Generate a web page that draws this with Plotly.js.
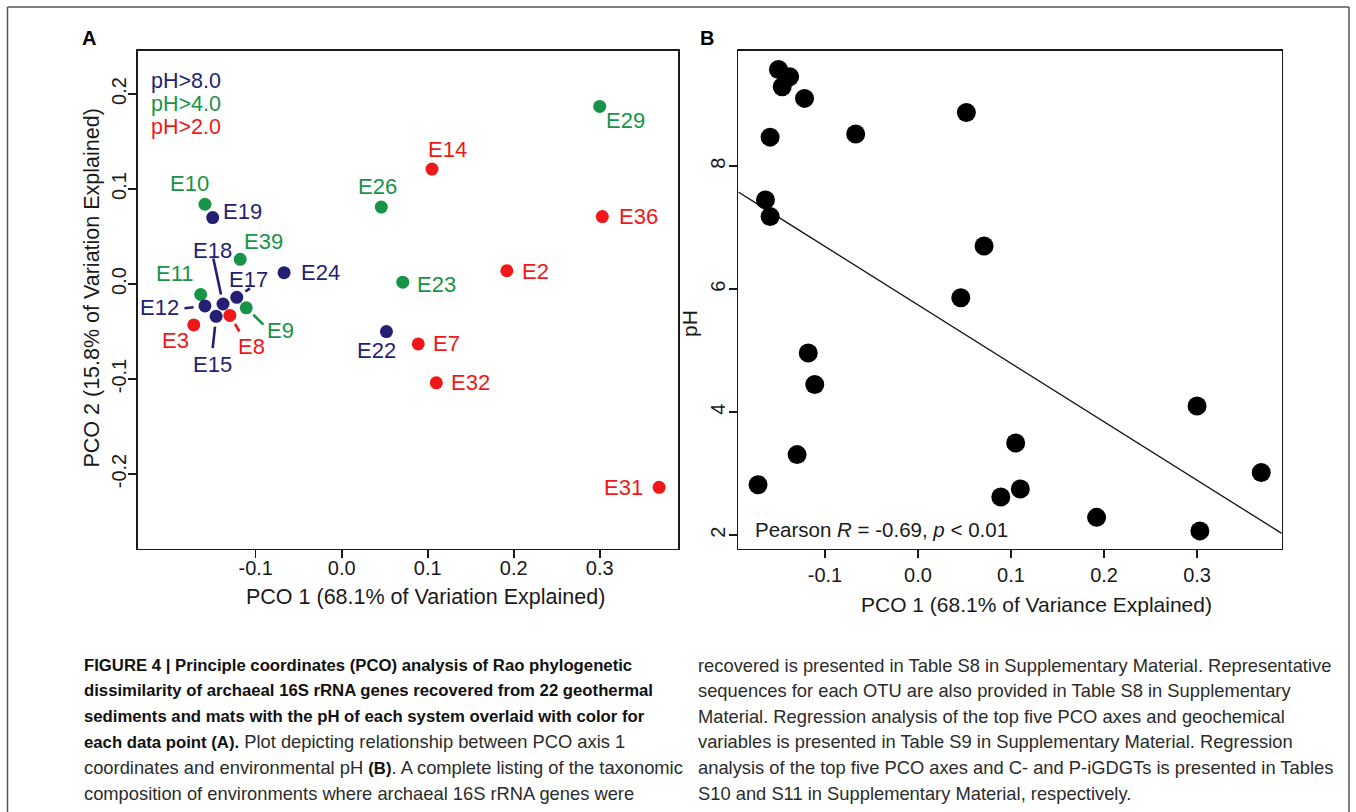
<!DOCTYPE html>
<html>
<head>
<meta charset="utf-8">
<script src="https://cdn.plot.ly/plotly-3.0.1.min.js"></script>
<style>
  html, body { margin: 0; padding: 0; background: #ffffff; }
  #chart { width: 1356px; height: 812px; }
</style>
</head>
<body>
<div id="chart"></div>
<script>
// ---------------- DATA ----------------
const sampleNames = ["E29","E14","E26","E36","E10","E19","E39","E24","E23","E2","E11",
                     "E17","E18","E12","E9","E15","E8","E3","E22","E7","E32","E31"];
const pco1 = [0.300, 0.105, 0.046, 0.303, -0.159, -0.150, -0.118, -0.067, 0.071, 0.192, -0.164,
              -0.122, -0.138, -0.159, -0.111, -0.146, -0.130, -0.172, 0.052, 0.089, 0.110, 0.369];
const pco2 = [0.187, 0.121, 0.081, 0.071, 0.084, 0.070, 0.026, 0.012, 0.002, 0.014, -0.011,
              -0.014, -0.021, -0.023, -0.025, -0.034, -0.033, -0.043, -0.050, -0.063, -0.104, -0.214];
const pHvalues = [4.10, 3.50, 5.86, 2.07, 7.18, 9.57, 4.96, 8.52, 6.70, 2.29, 7.45,
                  9.10, 9.45, 8.47, 4.45, 9.29, 3.31, 2.82, 8.87, 2.62, 2.75, 3.02];
const pHClasses = ["pH>8.0", "pH>4.0", "pH>2.0"];
const pHThresholds = [8.0, 4.0, 2.0];
const xTickVals = [-0.1, 0.0, 0.1, 0.2, 0.3];
const xTickText = ["-0.1", "0.0", "0.1", "0.2", "0.3"];
const yTickValsA = [-0.2, -0.1, 0.0, 0.1, 0.2];
const yTickTextA = ["-0.2", "-0.1", "0.0", "0.1", "0.2"];
const yTickValsB = [2, 4, 6, 8];
const yTickTextB = ["2", "4", "6", "8"];
const statText = "Pearson <i>R</i> = -0.69, <i>p</i> < 0.01";

// caption lines: [bold part, regular part]
const capLeft = [
  ["FIGURE 4 | Principle coordinates (PCO) analysis of Rao phylogenetic", ""],
  ["dissimilarity of archaeal 16S rRNA genes recovered from 22 geothermal", ""],
  ["sediments and mats with the pH of each system overlaid with color for", ""],
  ["each data point (A).", " Plot depicting relationship between PCO axis 1"],
  ["", "coordinates and environmental pH |(B)|. A complete listing of the taxonomic"],
  ["", "composition of environments where archaeal 16S rRNA genes were"]
];
const capRight = [
  "recovered is presented in Table S8 in Supplementary Material. Representative",
  "sequences for each OTU are also provided in Table S8 in Supplementary",
  "Material. Regression analysis of the top five PCO axes and geochemical",
  "variables is presented in Table S9 in Supplementary Material. Regression",
  "analysis of the top five PCO axes and C- and P-iGDGTs is presented in Tables",
  "S10 and S11 in Supplementary Material, respectively."
];

// ---------------- STYLE / LAYOUT HELPERS ----------------
const W = 1356, H = 812;
const px = v => v / W;
const py = v => 1 - v / H;
const classColors = ["#241f73", "#179447", "#f01818"];
const FONT = "Liberation Sans, Arial, sans-serif";
const INK = "#1a1a1a";

function classIndex(ph) {
  for (let k = 0; k < pHThresholds.length; k++) if (ph > pHThresholds[k]) return k;
  return pHThresholds.length - 1;
}
const pointColors = pHvalues.map(v => classColors[classIndex(v)]);

// label offsets in pixels (dx right, dy down) relative to each point
const labelOffsets = {
  E29:[26,14], E14:[15,-20], E26:[-4,-21], E36:[36,0], E10:[-15,-21], E19:[30,-6],
  E39:[23,-18], E24:[36,0], E23:[34,2], E2:[29,1], E11:[-26,-21], E17:[12,-18],
  E18:[-11,-53], E12:[-45,2], E9:[34,23], E15:[-4,48], E8:[22,31], E3:[-18,16],
  E22:[-10,19], E7:[28,0], E32:[34,0], E31:[-36,0]
};
// leader segments: tail offset (px) from point, gap to point (px)
const leaders = {
  E18:[-10,-47,9.6], E17:[14.7,-10,10.4], E12:[-22,2.5,11.5],
  E9:[18.7,18.3,9.9], E8:[10.4,17.6,10], E15:[-3.6,33.3,10.3]
};

// ---------------- REGRESSION (from data) ----------------
const n = pco1.length;
const mx = pco1.reduce((a,b)=>a+b,0)/n;
const my = pHvalues.reduce((a,b)=>a+b,0)/n;
let sxy = 0, sxx = 0;
for (let i = 0; i < n; i++) { sxy += (pco1[i]-mx)*(pHvalues[i]-my); sxx += (pco1[i]-mx)**2; }
const slope = sxy / sxx, intercept = my - slope * mx;
const xRangeB = [-0.1932, 0.391];
const fitX = xRangeB.slice();
const fitY = fitX.map(x => intercept + slope * x);

// ---------------- TRACES ----------------
const traceA = {
  type: "scatter", mode: "markers", x: pco1, y: pco2, xaxis: "x", yaxis: "y",
  marker: { color: pointColors, size: 13, line: { width: 0 } },
  hoverinfo: "skip", showlegend: false, cliponaxis: false
};
const fitTrace = {
  type: "scatter", mode: "lines", x: fitX, y: fitY, xaxis: "x2", yaxis: "y2",
  line: { color: "#111111", width: 1.3 }, hoverinfo: "skip", showlegend: false
};
const traceB = {
  type: "scatter", mode: "markers", x: pco1, y: pHvalues, xaxis: "x2", yaxis: "y2",
  marker: { color: "#000000", size: 19, line: { width: 0 } },
  hoverinfo: "skip", showlegend: false, cliponaxis: false
};

// ---------------- ANNOTATIONS ----------------
const ann = [];
sampleNames.forEach((nm, i) => {
  const off = labelOffsets[nm];
  ann.push({
    xref: "x", yref: "y", x: pco1[i], y: pco2[i], text: nm, showarrow: false,
    xshift: off[0], yshift: -off[1], xanchor: "center", yanchor: "middle",
    font: { family: FONT, size: 22, color: pointColors[i] }
  });
  if (leaders[nm]) {
    const L = leaders[nm];
    ann.push({
      xref: "x", yref: "y", x: pco1[i], y: pco2[i], text: "", showarrow: true,
      ax: L[0], ay: L[1], axref: "pixel", ayref: "pixel", standoff: L[2],
      arrowhead: 0, arrowwidth: 2.6, arrowcolor: pointColors[i]
    });
  }
});
// pH legend
pHClasses.forEach((t, k) => {
  ann.push({ xref: "paper", yref: "paper", x: px(148.5), y: py(80.5 + 23.1 * k), text: t,
    showarrow: false, xanchor: "left", yanchor: "middle",
    font: { family: FONT, size: 21.5, color: classColors[k] } });
});
function txt(x, y, text, size, opts) {
  return Object.assign({ xref: "paper", yref: "paper", x: px(x), y: py(y), text: text,
    showarrow: false, xanchor: "center", yanchor: "middle",
    font: { family: FONT, size: size, color: INK } }, opts || {});
}
ann.push(txt(425, 596.5, "PCO 1 (68.1% of Variation Explained)", 21.5));
ann.push(txt(91, 288.5, "PCO 2 (15.8% of Variation Explained)", 21.5, { textangle: -90 }));
ann.push(txt(1036, 604, "PCO 1 (68.1% of Variance Explained)", 21));
ann.push(txt(689, 324, "pH", 21, { textangle: -90 }));
ann.push(txt(753, 529.5, statText, 20.5, { xanchor: "left" }));
ann.push(txt(89, 38, "<b>A</b>", 20, { font: { family: FONT, size: 20, color: "#000" } }));
ann.push(txt(707, 38, "<b>B</b>", 20, { font: { family: FONT, size: 20, color: "#000" } }));

// caption: font sizes fitted so that reference line widths are matched
const capFamily = "Liberation Sans";
const cv = document.createElement("canvas").getContext("2d");
function fitSize(text, weight, target) {
  cv.font = weight + " 100px '" + capFamily + "'";
  return 100 * target / cv.measureText(text).width;
}
const sizeBold = fitSize(capLeft[1][0], "bold", 570);
const sizeReg = fitSize(capRight[0], "normal", 634);
const boldSpan = s => "<b><span style=\"font-size:" + sizeBold.toFixed(2) + "px;fill:#111111\">" + s + "</span></b>";
const capY0 = 665, capDY = 25.6;
capLeft.forEach((parts, k) => {
  let t = "";
  if (parts[0]) t += boldSpan(parts[0]);
  if (parts[1]) t += parts[1].replace(/\|([^|]+)\|/g, (m, g) => boldSpan(g));
  ann.push(txt(82, capY0 + capDY * k, t, sizeReg,
    { xanchor: "left", font: { family: capFamily, size: sizeReg, color: "#2b2b2b" } }));
});
capRight.forEach((t, k) => ann.push(txt(696, capY0 + capDY * k, t, sizeReg,
  { xanchor: "left", font: { family: capFamily, size: sizeReg, color: "#2b2b2b" } })));

// ---------------- AXES ----------------
const axCommon = {
  showgrid: false, zeroline: false, showline: true, mirror: true,
  linecolor: INK, linewidth: 1.8, ticks: "outside", ticklen: 8, tickwidth: 1.6,
  tickcolor: INK, tickfont: { family: FONT, size: 20, color: INK },
  fixedrange: true, automargin: false
};
const yDom = [py(548.5), py(51)];
const layout = {
  width: W, height: H, margin: { l: 0, r: 0, t: 0, b: 0 },
  paper_bgcolor: "#ffffff", plot_bgcolor: "#ffffff", showlegend: false,
  xaxis: Object.assign({}, axCommon, { domain: [px(137.7), px(678)], range: [-0.2372, 0.391],
    tickmode: "array", tickvals: xTickVals, ticktext: xTickText, anchor: "y", ticklabelstandoff: -7 }),
  yaxis: Object.assign({}, axCommon, { domain: yDom, range: [-0.2784, 0.2453],
    tickmode: "array", tickvals: yTickValsA, ticktext: yTickTextA, tickangle: -90, anchor: "x",
    ticklabelstandoff: -6 }),
  xaxis2: Object.assign({}, axCommon, { domain: [px(738.3), px(1281.7)], range: xRangeB,
    tickmode: "array", tickvals: xTickVals, ticktext: xTickText, anchor: "y2", linewidth: 1.6 }),
  yaxis2: Object.assign({}, axCommon, { domain: yDom, range: [1.784, 9.87],
    tickmode: "array", tickvals: yTickValsB, ticktext: yTickTextB, tickangle: -90, anchor: "x2",
    linewidth: 1.6, ticklabelstandoff: -4 }),
  annotations: ann,
  shapes: [
    { type: "line", xref: "paper", yref: "paper", x0: px(7.5), x1: px(7.5), y0: py(7), y1: -0.02,
      line: { color: "#555", width: 1.5 } },
    { type: "line", xref: "paper", yref: "paper", x0: px(7.5), x1: px(1349), y0: py(7), y1: py(7),
      line: { color: "#555", width: 1.5 } },
    { type: "line", xref: "paper", yref: "paper", x0: px(1349), x1: px(1349), y0: py(7), y1: -0.02,
      line: { color: "#555", width: 1.5 } }
  ]
};

Plotly.newPlot("chart", [traceA, fitTrace, traceB], layout, { displayModeBar: false, staticPlot: true });
</script>
</body>
</html>
